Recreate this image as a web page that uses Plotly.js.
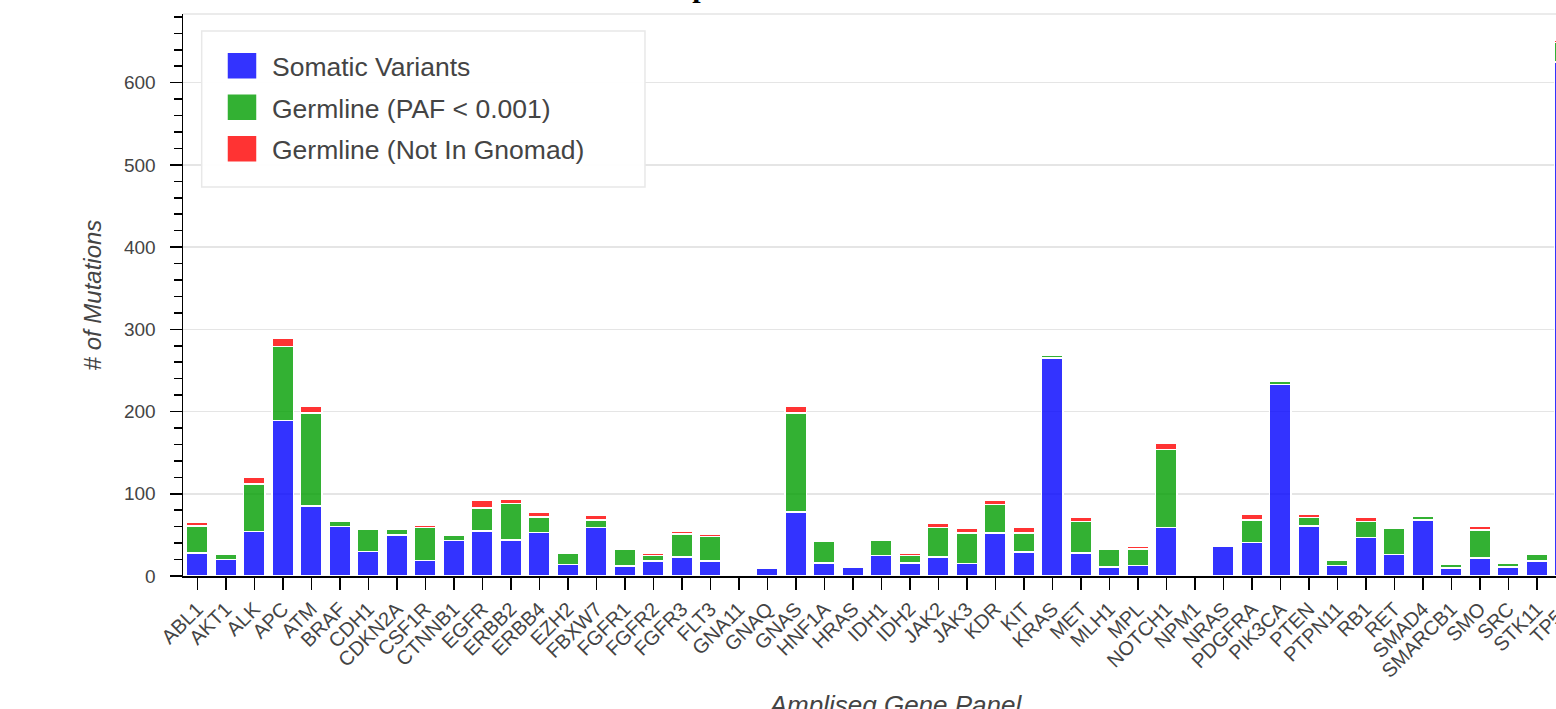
<!DOCTYPE html>
<html>
<head>
<meta charset="utf-8">
<script src="https://cdn.plot.ly/plotly-3.0.1.min.js"></script>
<style>
  html, body { margin: 0; padding: 0; overflow: hidden; background: #fff; width: 1556px; height: 709px; }
  #chart { position: absolute; left: 0; top: -40px; width: 1620px; height: 760px; }
</style>
</head>
<body>
<div id="chart"></div>
<script>
const genes = ["ABL1","AKT1","ALK","APC","ATM","BRAF","CDH1","CDKN2A","CSF1R","CTNNB1",
  "EGFR","ERBB2","ERBB4","EZH2","FBXW7","FGFR1","FGFR2","FGFR3","FLT3","GNA11",
  "GNAQ","GNAS","HNF1A","HRAS","IDH1","IDH2","JAK2","JAK3","KDR","KIT",
  "KRAS","MET","MLH1","MPL","NOTCH1","NPM1","NRAS","PDGFRA","PIK3CA","PTEN",
  "PTPN11","RB1","RET","SMAD4","SMARCB1","SMO","SRC","STK11","TP53","VHL"];

// VHL lies outside the visible crop of the reference, so its values are unknown (null).
const somatic = [28,20,54,189,85,60,30,50,19,43,
  55,44,53,14,59,12,18,23,18,2,
  9,78,16,11,25,16,23,15,52,29,
  265,28,11,13,59,2,36,41,233,61,
  13,47,26,68,10,22,11,18,625,null];

const germlinePAF = [33,7,58,90,113,6,27,7,40,7,
  28,44,19,14,9,21,7,28,30,0,
  0,120,26,0,19,9,36,37,35,23,
  3,38,21,20,95,0,0,27,4,10,
  6,19,32,5,4,34,5,9,24,null];

const germlineNovel = [4,0,8,10,9,0,2,0,3,2,
  9,5,5,0,6,0,3,4,3,0,
  0,8,0,0,0,3,5,6,5,7,
  0,5,2,3,7,0,0,7,0,4,
  0,6,0,0,0,5,0,0,2,null];

const seriesNames = ["Somatic Variants", "Germline (PAF < 0.001)", "Germline (Not In Gnomad)"];
const seriesColors = ["rgba(0,0,255,0.8)", "rgba(0,158,0,0.8)", "rgba(255,0,0,0.8)"];
const yTickVals = [0,100,200,300,400,500,600];

const FONT = "Liberation Sans, Arial, Helvetica, sans-serif";
const data = [somatic, germlinePAF, germlineNovel].map((vals, i) => ({
  type: "bar",
  x: genes,
  y: vals,
  name: seriesNames[i],
  legendgroup: "g" + i,
  width: 0.74,
  marker: { color: seriesColors[i], line: { color: "white", width: 1.5 } },
  hoverinfo: "x+y+name"
}));

const layout = {
  width: 1620, height: 760,
  margin: { l: 183, r: 12, t: 54, b: 144 },
  paper_bgcolor: "white", plot_bgcolor: "white",
  barmode: "stack",
  font: { family: FONT, color: "#444" },
  title: {
    text: "Mutations per Gene: Somatic Variants and Germline Calls",
    font: { family: "Liberation Serif, Times New Roman, serif", size: 30, color: "black", weight: "bold" },
    xref: "container", x: 0.3414, xanchor: "left",
    yref: "container", y: 0.979, yanchor: "top"
  },
  xaxis: {
    type: "category",
    categoryorder: "array", categoryarray: genes,
    range: [-0.5, genes.length - 0.5],
    showgrid: false, zeroline: false,
    showline: true, linecolor: "black", linewidth: 1.5,
    ticks: "outside", ticklen: 12, tickwidth: 1.5, tickcolor: "black",
    tickangle: -45,
    tickfont: { family: FONT, size: 20, color: "#444" },
    title: { text: "Ampliseq Gene Panel", standoff: 35,
      font: { family: FONT, size: 26, color: "#444", style: "italic" } },
    automargin: false
  },
  yaxis: {
    range: [0, 683.5],
    tickvals: yTickVals,
    showgrid: true, gridcolor: "#e5e5e5", gridwidth: 1.5,
    zeroline: false,
    showline: true, linecolor: "black", linewidth: 1.5,
    ticks: "outside", ticklen: 12, tickwidth: 1.5, tickcolor: "black",
    ticklabelstandoff: 10,
    tickfont: { family: FONT, size: 19, color: "#444" },
    minor: { dtick: 20, ticks: "outside", ticklen: 8, tickwidth: 1.5, tickcolor: "black", showgrid: false },
    title: { text: "# of Mutations", standoff: 15,
      font: { family: FONT, size: 24, color: "#444", style: "italic" } },
    automargin: false
  },
  showlegend: true,
  legend: {
    x: 0.02035, xanchor: "left", y: 0.95, yanchor: "top",
    bgcolor: "rgba(0,0,0,0)", borderwidth: 0,
    traceorder: "grouped", tracegroupgap: 4, itemwidth: 50,
    font: { family: FONT, size: 26.5, color: "#444" }
  },
  shapes: [
    { type: "line", xref: "paper", yref: "paper", x0: 0, x1: 1, y0: 1, y1: 1,
      line: { color: "#e5e5e5", width: 1.5 }, layer: "below" },
    { type: "rect", xref: "paper", yref: "paper", x0: 0.01312, x1: 0.3242, y0: 0.6922, y1: 0.9698,
      fillcolor: "rgba(255,255,255,0.95)", line: { color: "#e8e8e8", width: 1.5 }, layer: "above" }
  ],
  bargap: 0.26
};

const gd = document.getElementById("chart");
Plotly.newPlot(gd, data, layout, { staticPlot: true, displayModeBar: false }).then(() => {
  gd.querySelectorAll("g.legend g.traces").forEach(t => {
    const p = t.querySelector(".legendpoints path");
    if (p) {
      p.setAttribute("d", "M-15,-13.5H15V13.5H-15Z");
      p.setAttribute("transform", "translate(30,0)");
    }
  });
});
</script>
</body>
</html>
